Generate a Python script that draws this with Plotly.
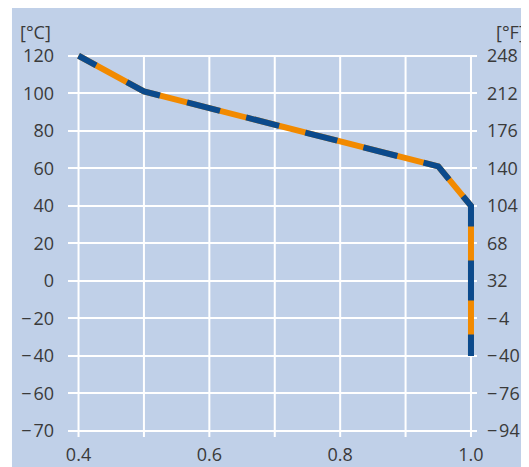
import plotly.graph_objects as go

# Data
ratio = [0.4, 0.5, 0.95, 1.0, 1.0]
temp_c = [120, 101, 61, 40, -40]

# Axis ticks (the bottom tick "-70" sits one step below -60, at the -80 slot)
c_vals = [120, 100, 80, 60, 40, 20, 0, -20, -40, -60, -80]
c_text = ["120", "100", "80", "60", "40", "20", "0", "\u2212\u200a20", "\u2212\u200a40",
          "\u2212\u200a60", "\u2212\u200a70"]
f_text = ["248", "212", "176", "140", "104", "68", "32", "\u2212\u200a4", "\u2212\u200a40",
          "\u2212\u200a76", "\u2212\u200a94"]
x_ticks = [0.4, 0.6, 0.8, 1.0]
x_ticktext = ["0.4", "0.6", "0.8", "1.0"]
x_grid = [0.4, 0.5, 0.6, 0.7, 0.8, 0.9, 1.0]

BG = "#c0d0e8"
BLUE = "#0b4a8c"
ORANGE = "#f28a00"
TXT = "#3a3a3a"
FONT = "Open Sans"
FS = 18

# blue dash / orange gap lengths along the curve (px)
DASH = "20px,35px,36px,28px,34px,27px,34px,27px,33px,27px,35px,27px,32px,22px,33px,34px,40px,34px,40px"

fig = go.Figure()

# orange base line + dark blue dashes on top
fig.add_trace(go.Scatter(
    x=ratio, y=temp_c, mode="lines",
    line=dict(color=ORANGE, width=6),
    hoverinfo="skip", showlegend=False
))
fig.add_trace(go.Scatter(
    x=ratio, y=temp_c, mode="lines",
    line=dict(color=BLUE, width=6, dash=DASH),
    showlegend=False
))
# invisible trace so the °F axis gets drawn
fig.add_trace(go.Scatter(
    x=ratio, y=temp_c, mode="lines", yaxis="y2",
    line=dict(width=0), hoverinfo="skip", showlegend=False
))

# Habillage
shapes = [dict(type="rect", xref="paper", yref="paper",
               x0=-0.137, x1=1.2, y0=-0.3, y1=1.3,
               fillcolor=BG, line=dict(width=0), layer="below")]
for gx in x_grid:
    shapes.append(dict(type="line", xref="x", yref="y", x0=gx, x1=gx, y0=-83.2, y1=120,
                       line=dict(color="white", width=2), layer="below"))

yrange = [-83.2, 122]
fig.update_layout(
    width=521, height=459,
    margin=dict(l=60, r=52, t=44, b=30),
    paper_bgcolor="white",
    plot_bgcolor="rgba(0,0,0,0)",
    font=dict(family=FONT, size=FS, color=TXT),
    shapes=shapes,
    xaxis=dict(range=[0.3839, 1.0092], tickvals=x_ticks, ticktext=x_ticktext,
               showgrid=False, zeroline=False, showline=False, ticks="",
               ticklabelstandoff=5, automargin=False),
    yaxis=dict(range=yrange, tickvals=c_vals, ticktext=c_text,
               showgrid=True, gridcolor="white", gridwidth=2,
               zeroline=False, showline=False, ticks="", ticklabelstandoff=13,
               automargin=False),
    yaxis2=dict(range=yrange, tickvals=c_vals, ticktext=f_text, overlaying="y",
                side="right", showgrid=False, zeroline=False, showline=False,
                ticks="", ticklabelstandoff=9, automargin=False),
    annotations=[
        dict(text="[°C]", xref="paper", yref="paper", x=-0.0367, y=1.052,
             xanchor="right", yanchor="middle", showarrow=False,
             font=dict(family=FONT, size=FS, color=TXT)),
        dict(text="[°F]", xref="paper", yref="paper", x=1.041, y=1.052,
             xanchor="left", yanchor="middle", showarrow=False,
             font=dict(family=FONT, size=FS, color=TXT)),
    ],
)

fig.write_html("out.html")
